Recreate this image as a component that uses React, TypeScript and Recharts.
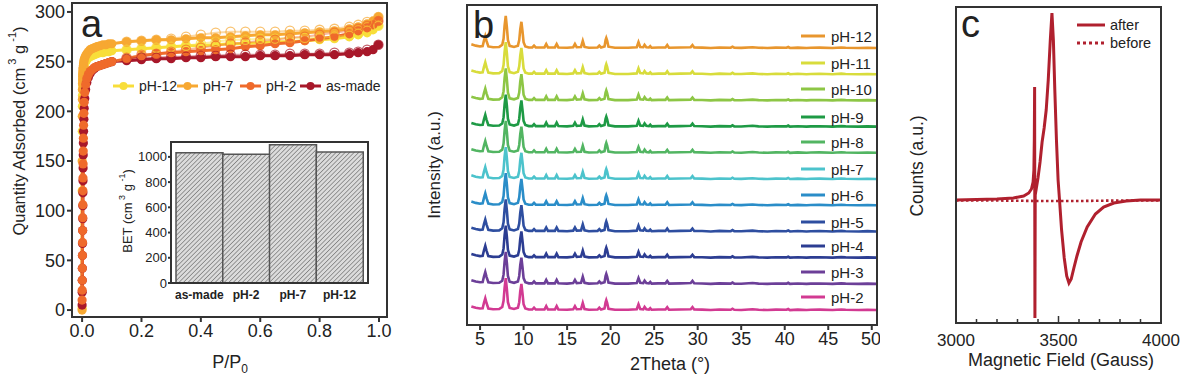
import React from 'react'
import { LineChart, Line, XAxis, YAxis, BarChart, Bar } from 'recharts'

// ---------- panel a: N2 isotherms ----------
const adsP = [0, 0.0003, 0.0006, 0.0009, 0.0012, 0.0015, 0.0018, 0.0021, 0.0024, 0.0027, 0.003, 0.0034, 0.0038, 0.0043, 0.005, 0.006, 0.007, 0.009, 0.012, 0.016, 0.021, 0.027, 0.034, 0.042, 0.05, 0.06, 0.07, 0.08, 0.09, 0.1, 0.15, 0.2, 0.25, 0.3, 0.35, 0.4, 0.45, 0.5, 0.55, 0.6, 0.65, 0.7, 0.75, 0.8, 0.85, 0.9, 0.93, 0.96, 0.98, 0.998]
const adsPH12 = [2, 120, 180, 205, 216, 222, 226, 229, 231, 233, 235, 237, 238, 240, 242, 244, 246, 248, 250, 252, 254, 255, 256, 257, 258, 259, 259, 260, 260, 261, 262, 263, 264, 265, 266, 266, 267, 268, 268, 269, 270, 270, 271, 272, 273, 275, 277, 279, 282, 286]
const adsPH7 = [0, 150, 195, 212, 222, 228, 232, 235, 237, 239, 241, 243, 244, 246, 248, 250, 252, 254, 256, 258, 260, 262, 263, 264, 265, 266, 267, 267, 268, 268, 270, 271, 272, 272, 273, 274, 274, 275, 276, 277, 277, 278, 279, 280, 281, 283, 285, 288, 291, 295]
const adsAsMade = [5, 18, 30, 42, 55, 67, 80, 92, 105, 118, 130, 143, 156, 168, 180, 192, 203, 213, 222, 229, 234, 238, 241, 243, 245, 246, 247, 248, 249, 250, 251, 252, 253, 253, 254, 254, 255, 255, 255, 256, 256, 256, 257, 257, 257, 258, 259, 260, 262, 267]
const adsPH2 = [10, 20, 30, 42, 55, 68, 80, 93, 106, 120, 133, 147, 160, 173, 186, 198, 209, 219, 227, 233, 237, 240, 242, 244, 245, 246, 247, 248, 249, 250, 253, 256, 258, 259, 260, 261, 262, 263, 265, 266, 268, 269, 271, 273, 275, 278, 281, 284, 287, 291]

const desP = [0.998, 0.96, 0.93, 0.9, 0.85, 0.8, 0.75, 0.7, 0.65, 0.6, 0.55, 0.5, 0.45, 0.4, 0.35, 0.3, 0.25, 0.2, 0.15]
const desPH12 = [286, 281, 278, 276, 275, 274, 274, 274, 273, 273, 272, 272, 270, 268, 266, 265, 264, 263, 262]
const desPH7 = [295, 290, 287, 285, 283, 282, 281, 281, 280, 280, 280, 280, 279, 277, 275, 273, 272, 271, 270]
const desAsMade = [267, 262, 260, 259, 259, 258, 258, 258, 257, 257, 257, 257, 256, 256, 255, 255, 254, 254, 253]
const desPH2 = [291, 286, 283, 281, 279, 277, 275, 274, 272, 271, 269, 268, 266, 264, 262, 260, 258, 257, 254]

const isoYTicks = [0, 50, 100, 150, 200, 250, 300]
const isoXTicks = [0, 0.2, 0.4, 0.6, 0.8, 1.0]

// drawing order (last one on top)
const isoSeries = [
  { name: 'pH-12', color: '#f8de3a', ads: adsPH12, des: desPH12 },
  { name: 'pH-7', color: '#f7a832', ads: adsPH7, des: desPH7 },
  { name: 'as-made', color: '#a8182a', ads: adsAsMade, des: desAsMade },
  { name: 'pH-2', color: '#ef6a2b', ads: adsPH2, des: desPH2 },
]
const isoLegend = [
  { name: 'pH-12', color: '#f8de3a', x: 113 },
  { name: 'pH-7', color: '#f7a832', x: 177 },
  { name: 'pH-2', color: '#ef6a2b', x: 240 },
  { name: 'as-made', color: '#a8182a', x: 300 },
]

// inset: BET surface area
const betNames = ['as-made', 'pH-2', 'pH-7', 'pH-12']
const betValues = [1032, 1021, 1097, 1039]
const betTicks = [0, 200, 400, 600, 800, 1000]

// ---------- panel b: PXRD ----------
const xrdPattern: [number, number][] = [
  [4.0, 14], [4.5, 9], [5.0, 6], [5.3, 7], [5.45, 28], [5.6, 45], [5.75, 26], [5.95, 6], [6.5, 3], [7.2, 4], [7.55, 12],
  [7.7, 35], [7.82, 85], [7.95, 122], [8.08, 80], [8.2, 30], [8.4, 8], [8.9, 4], [9.35, 9], [9.5, 30], [9.62, 72],
  [9.75, 100], [9.88, 62], [10.0, 22], [10.2, 6], [10.6, 2], [11.0, 2], [11.2, 9], [11.4, 2], [12.4, 2], [12.6, 15],
  [12.8, 2], [13.6, 2], [13.8, 15], [14.0, 2], [15.0, 1], [15.7, 3], [15.9, 15], [16.1, 3], [16.6, 4], [16.8, 27],
  [17.0, 4], [17.5, 1], [18.5, 2], [18.7, 9], [18.9, 2], [19.3, 6], [19.42, 30], [19.5, 38], [19.6, 28], [19.75, 5],
  [20.5, 1], [22.0, 1], [23.0, 3], [23.2, 22], [23.4, 4], [23.75, 3], [23.9, 12], [24.1, 3], [24.4, 2], [24.55, 7],
  [24.7, 1], [25.5, 2], [26.3, 2], [26.5, 11], [26.7, 1], [28.0, 2], [29.2, 3], [29.4, 11], [29.6, 2], [30.5, 1.5],
  [31.5, 0], [32.5, 2], [33.8, 1], [34.0, 5], [34.2, 1], [35.0, 0.5], [36.3, 3], [37.0, 1], [38.0, 0], [39.0, 1.5],
  [40.2, 1], [40.4, 4], [40.6, 0], [41.5, 1.5], [42.5, 0], [43.0, 1], [44.0, 1.5], [45.5, 0], [46.5, 2], [47.0, 1],
  [48.5, 0], [49.5, 1], [50.5, 0],
]
const xrdLabels = ['pH-2', 'pH-3', 'pH-4', 'pH-5', 'pH-6', 'pH-7', 'pH-8', 'pH-9', 'pH-10', 'pH-11', 'pH-12']
const xrdColors = ['#d23a92', '#6c3f98', '#2c3d92', '#2e4ea0', '#2a8dc8', '#4cc3cc', '#52b562', '#1e9a45', '#8dc645', '#d8dc3c', '#e8962e']
const xrdOffsets = [0, 100, 200, 300, 400, 500, 600, 700, 800, 900, 1000]
const xrdLegendY = [297, 272, 246, 222, 195, 169, 142, 117, 89, 63, 36]
const xrdTicks = [5, 10, 15, 20, 25, 30, 35, 40, 45, 50]

// ---------- panel c: EPR ----------
const eprAfter: [number, number][] = [
  [3000, 0], [3100, 0.5], [3200, 1], [3280, 2], [3330, 4], [3355, 7], [3368, 11], [3376, 18], [3380, 30], [3382, 60],
  [3383.5, 113], [3385, -118], [3386.5, 5], [3392, 12], [3400, 22], [3410, 38], [3420, 58], [3430, 72], [3440, 90],
  [3450, 120], [3460, 160], [3468, 187], [3475, 160], [3482, 110], [3490, 60], [3498, 20], [3505, 0], [3515, -30],
  [3528, -58], [3540, -76], [3551, -83], [3562, -79], [3575, -68], [3590, -56], [3610, -42], [3640, -27], [3680, -14],
  [3720, -7], [3770, -3], [3830, -1], [3900, 0], [4000, 0],
]
const eprBefore: [number, number][] = [[3000, -0.5], [3200, -0.5], [3400, -1], [3600, -1], [3800, -0.5], [4000, -0.5]]
const eprTicks = [3000, 3100, 3200, 3300, 3400, 3500, 3600, 3700, 3800, 3900, 4000]
const eprColor = '#b0202e'

const AX = '#333'
const TXT = '#222'
const FONT = '"Liberation Sans", Arial, Helvetica, sans-serif'

// plot frames (x, y, w, h) that the axes below produce
const frames = [
  [72, 3, 315, 314],
  [171, 142, 197, 141],
  [467, 5, 410, 320],
  [956, 7, 205, 316],
]

function IsothermChart() {
  return (
    <LineChart width={400} height={380} margin={{ top: 3, right: 13, left: 0, bottom: 0 }}>
      <XAxis
        dataKey="p"
        type="number"
        domain={[-0.034, 1.027]}
        ticks={isoXTicks}
        allowDataOverflow
        tickFormatter={(v: number) => v.toFixed(1)}
        height={63}
        tickSize={5}
        stroke={AX}
        strokeWidth={2}
        tick={{ fill: TXT, fontSize: 18 }}
      />
      <YAxis
        type="number"
        domain={[-7, 309]}
        ticks={isoYTicks}
        allowDataOverflow
        width={72}
        tickSize={5}
        stroke={AX}
        strokeWidth={2}
        tick={{ fill: TXT, fontSize: 18 }}
      />
      {isoSeries.map((s) => (
        <Line
          key={s.name}
          data={adsP.map((p, i) => ({ p, q: s.ads[i] }))}
          dataKey="q"
          stroke={s.color}
          strokeWidth={3}
          dot={{ r: 4.6, fill: s.color, stroke: 'none' }}
          activeDot={false}
          isAnimationActive={false}
        />
      ))}
      {isoSeries.map((s) => (
        <Line
          key={s.name + '-des'}
          data={desP.map((p, i) => ({ p, q: s.des[i] }))}
          dataKey="q"
          stroke={s.color}
          strokeOpacity={0.45}
          strokeWidth={2}
          dot={{ r: 4.6, fill: 'none', stroke: s.color, strokeWidth: 1.3, strokeOpacity: 0.7 }}
          activeDot={false}
          isAnimationActive={false}
        />
      ))}
    </LineChart>
  )
}

function BetInset() {
  const data = betNames.map((name, i) => ({ name, bet: betValues[i] }))
  return (
    <BarChart width={280} height={180} data={data} margin={{ top: 12, right: 12, left: 0, bottom: 0 }} barCategoryGap={0}>
      <defs>
        <pattern id="hatch" patternUnits="userSpaceOnUse" width="3.2" height="3.2" patternTransform="rotate(45)">
          <rect width="3.2" height="3.2" fill="#dcdcdc" />
          <line x1="0" y1="0" x2="0" y2="3.2" stroke="#6f6f6f" strokeWidth="1.3" />
        </pattern>
      </defs>
      <XAxis dataKey="name" height={27} padding={{ left: 5, right: 5 }} tickLine={false} tickSize={4} tickMargin={3} stroke={AX} strokeWidth={2} tick={{ fill: TXT, fontSize: 12, fontWeight: 'bold' }} />
      <YAxis type="number" domain={[0, 1118]} ticks={betTicks} width={71} tickSize={3} tickMargin={1} stroke={AX} strokeWidth={2} tick={{ fill: TXT, fontSize: 13 }} />
      <Bar dataKey="bet" fill="url(#hatch)" stroke="#555" strokeWidth={1.5} isAnimationActive={false} />
    </BarChart>
  )
}

function XrdChart() {
  return (
    <LineChart width={480} height={380} margin={{ top: 5, right: 3, left: 0, bottom: 0 }}>
      <XAxis dataKey="x" type="number" domain={[3.5, 50.6]} ticks={xrdTicks} allowDataOverflow height={55} tickSize={5} stroke={AX} strokeWidth={2} tick={{ fill: TXT, fontSize: 18 }} />
      <YAxis type="number" domain={[-57, 1164]} allowDataOverflow width={67} tick={false} tickLine={false} stroke={AX} strokeWidth={2} />
      {xrdLabels.map((name, i) => (
        <Line
          key={name}
          data={xrdPattern.map(([x, y]) => ({ x, y: y + xrdOffsets[i] }))}
          dataKey="y"
          stroke={xrdColors[i]}
          strokeWidth={2.6}
          dot={false}
          activeDot={false}
          isAnimationActive={false}
        />
      ))}
    </LineChart>
  )
}

const EprTick = (props: any) => {
  const { x, y, payload } = props
  const v = payload.value
  const major = v % 500 === 0
  return (
    <g>
      <line x1={x} x2={x} y1={y} y2={y - (major ? 7 : 4)} stroke={AX} strokeWidth={1.5} />
      {major && (
        <text x={x} y={y + 11} dy="0.71em" textAnchor="middle" fill={TXT} fontSize={17}>
          {v}
        </text>
      )}
    </g>
  )
}

function EprChart() {
  return (
    <LineChart width={302} height={380} margin={{ top: 7, right: 21, left: 0, bottom: 0 }}>
      <XAxis dataKey="b" type="number" domain={[3000, 4000]} ticks={eprTicks} interval={0} height={57} tickSize={0} tickMargin={0} tickLine={false} tick={EprTick} stroke={AX} strokeWidth={2} />
      <YAxis type="number" domain={[-123, 193]} allowDataOverflow width={76} tick={false} tickLine={false} stroke={AX} strokeWidth={2} />
      <Line data={eprAfter.map(([b, c]) => ({ b, c }))} dataKey="c" stroke={eprColor} strokeWidth={3} dot={false} activeDot={false} isAnimationActive={false} />
      <Line data={eprBefore.map(([b, c]) => ({ b, c }))} dataKey="c" stroke={eprColor} strokeWidth={2.6} strokeDasharray="2.5 2.5" dot={false} activeDot={false} isAnimationActive={false} />
    </LineChart>
  )
}

function Overlay() {
  return (
    <svg width={1182} height={380} style={{ position: 'absolute', left: 0, top: 0, pointerEvents: 'none' }}>
      {frames.map(([x, y, w, h], i) => (
        <rect key={i} x={x} y={y} width={w} height={h} fill="none" stroke={AX} strokeWidth={2} />
      ))}
      <g fill={TXT}>
        {/* panel letters */}
        <text x={81} y={37} fontSize={38}>a</text>
        <text x={473} y={38} fontSize={38}>b</text>
        <text x={961} y={37} fontSize={38}>c</text>

        {/* panel a titles */}
        <text transform="translate(19,131) rotate(-90)" textAnchor="middle" dominantBaseline="central" fontSize={16.5}>
          Quantity Adsorbed (cm<tspan dy={-7} fontSize={11}> 3</tspan><tspan dy={7}> g</tspan><tspan dy={-7} fontSize={11}> -1</tspan><tspan dy={7}>)</tspan>
        </text>
        <text x={230} y={368} textAnchor="middle" fontSize={18}>
          P/P<tspan dy={5} fontSize={12}>0</tspan>
        </text>
        <text transform="translate(127,211) rotate(-90)" textAnchor="middle" dominantBaseline="central" fontSize={13}>
          BET (cm<tspan dy={-5} fontSize={9}> 3</tspan><tspan dy={5}> g</tspan><tspan dy={-5} fontSize={9}> -1</tspan><tspan dy={5}>)</tspan>
        </text>

        {/* panel a legend */}
        {isoLegend.map((l) => (
          <g key={l.name}>
            <line x1={l.x} x2={l.x + 21} y1={86} y2={86} stroke={l.color} strokeWidth={3} />
            <circle cx={l.x + 10.5} cy={86} r={4} fill={l.color} />
            <text x={l.x + 26} y={86} dominantBaseline="central" fontSize={14}>{l.name}</text>
          </g>
        ))}

        {/* panel b titles + legend */}
        <text transform="translate(434,165) rotate(-90)" textAnchor="middle" dominantBaseline="central" fontSize={17}>
          Intensity (a.u.)
        </text>
        <text x={670} y={370} textAnchor="middle" fontSize={18}>2Theta (°)</text>
        {xrdLabels.map((name, i) => (
          <g key={name}>
            <line x1={801} x2={825} y1={xrdLegendY[i]} y2={xrdLegendY[i]} stroke={xrdColors[i]} strokeWidth={3} />
            <text x={831} y={xrdLegendY[i]} dominantBaseline="central" fontSize={15}>{name}</text>
          </g>
        ))}

        {/* panel c titles + legend */}
        <text transform="translate(917,166) rotate(-90)" textAnchor="middle" dominantBaseline="central" fontSize={17.5}>
          Counts (a.u.)
        </text>
        <text x={1061} y={366} textAnchor="middle" fontSize={18}>Magnetic Field (Gauss)</text>
        <line x1={1077} x2={1105} y1={25} y2={25} stroke={eprColor} strokeWidth={3} />
        <text x={1110} y={25} dominantBaseline="central" fontSize={14.5}>after</text>
        <line x1={1077} x2={1105} y1={43} y2={43} stroke={eprColor} strokeWidth={3} strokeDasharray="3 3" />
        <text x={1110} y={43} dominantBaseline="central" fontSize={14.5}>before</text>
      </g>
    </svg>
  )
}

export default function App() {
  return (
    <div style={{ position: 'fixed', left: 0, top: 0, width: 1182, height: 380, background: '#fff', fontFamily: FONT, overflow: 'hidden' }}>
      <div style={{ position: 'absolute', left: 0, top: 0 }}>
        <IsothermChart />
      </div>
      <div style={{ position: 'absolute', left: 100, top: 130 }}>
        <BetInset />
      </div>
      <div style={{ position: 'absolute', left: 400, top: 0 }}>
        <XrdChart />
      </div>
      <div style={{ position: 'absolute', left: 880, top: 0 }}>
        <EprChart />
      </div>
      <Overlay />
    </div>
  )
}
